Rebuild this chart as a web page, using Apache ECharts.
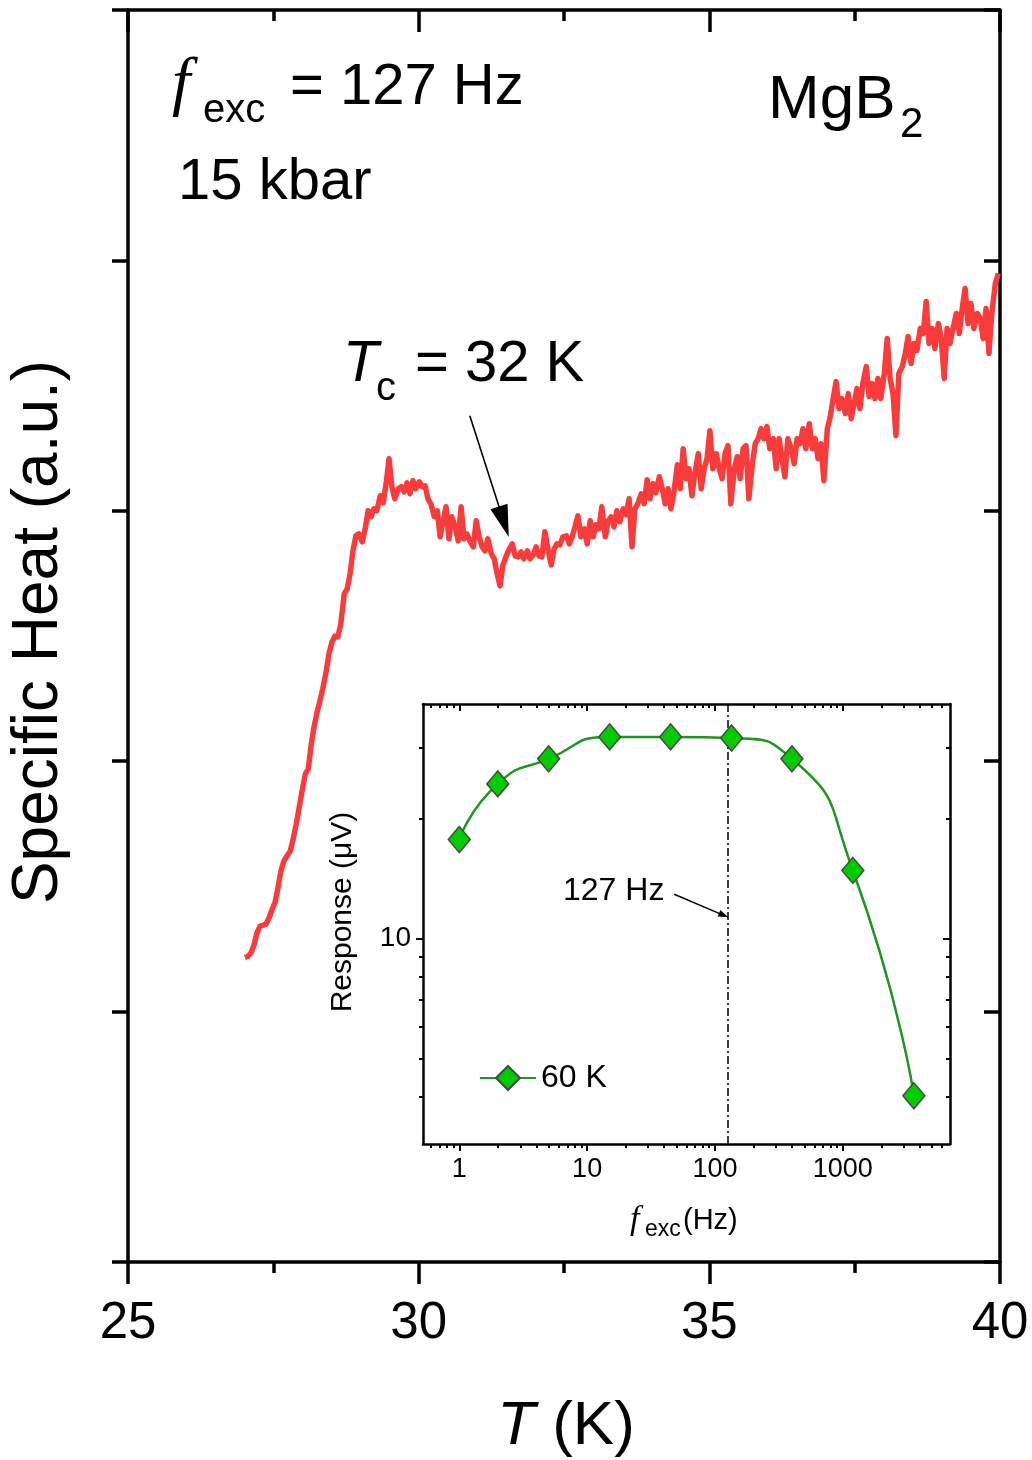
<!DOCTYPE html>
<html><head><meta charset="utf-8">
<script src="https://cdn.jsdelivr.net/npm/echarts@6/dist/echarts.min.js"></script>
<style>html,body{margin:0;padding:0;background:#fff}#c{width:1032px;height:1460px}</style>
</head><body><div id="c"></div>
<script>
// ---- main panel: specific heat vs temperature (arbitrary units) ----
const temperatureK = [
27.01,27.06,27.12,27.17,27.22,27.27,27.32,27.37,27.43,27.48,
27.53,27.58,27.63,27.68,27.74,27.79,27.84,27.89,27.94,27.99,
28.05,28.10,28.15,28.20,28.25,28.30,28.35,28.41,28.46,28.51,
28.56,28.61,28.66,28.72,28.77,28.82,28.87,28.92,28.97,29.03,
29.08,29.13,29.18,29.23,29.28,29.34,29.39,29.44,29.49,29.54,
29.59,29.65,29.70,29.75,29.80,29.85,29.90,29.95,30.01,30.06,
30.11,30.16,30.21,30.27,30.32,30.37,30.42,30.47,30.52,30.57,
30.63,30.68,30.73,30.78,30.83,30.88,30.94,30.99,31.04,31.09,
31.14,31.19,31.25,31.30,31.35,31.40,31.45,31.50,31.56,31.61,
31.66,31.71,31.76,31.81,31.87,31.92,31.97,32.02,32.07,32.12,
32.17,32.23,32.28,32.33,32.38,32.43,32.48,32.54,32.59,32.64,
32.69,32.74,32.79,32.85,32.90,32.95,33.00,33.05,33.10,33.15,
33.21,33.26,33.31,33.36,33.41,33.46,33.52,33.57,33.62,33.67,
33.72,33.77,33.83,33.88,33.93,33.98,34.03,34.08,34.14,34.19,
34.24,34.29,34.34,34.39,34.45,34.50,34.55,34.60,34.65,34.70,
34.75,34.81,34.86,34.91,34.96,35.01,35.06,35.12,35.17,35.22,
35.27,35.32,35.37,35.43,35.48,35.53,35.58,35.63,35.68,35.74,
35.79,35.84,35.89,35.94,35.99,36.04,36.10,36.15,36.20,36.25,
36.30,36.35,36.41,36.46,36.51,36.56,36.61,36.66,36.72,36.77,
36.82,36.87,36.92,36.97,37.03,37.08,37.13,37.18,37.23,37.28,
37.34,37.39,37.44,37.49,37.54,37.59,37.64,37.70,37.75,37.80,
37.85,37.90,37.95,38.01,38.06,38.11,38.16,38.21,38.26,38.32,
38.37,38.42,38.47,38.52,38.57,38.63,38.68,38.73,38.78,38.83,
38.88,38.94,38.99,39.04,39.09,39.14,39.19,39.25,39.30,39.35,
39.40,39.45,39.50,39.55,39.61,39.66,39.71,39.76,39.81,39.86,
39.92,39.97];
const specificHeat = [
12.16,12.20,12.36,12.68,13.16,13.40,13.44,13.48,13.76,14.08,
14.36,14.96,15.60,16.00,16.24,16.40,16.88,17.44,18.08,18.76,
19.48,19.68,20.64,21.36,21.92,22.40,22.88,23.60,24.32,24.76,
25.00,24.96,25.48,26.68,26.88,27.48,28.40,29.00,29.08,28.76,
29.28,30.00,29.76,30.08,30.00,30.60,30.32,31.08,32.08,30.96,
30.48,30.88,30.96,30.76,31.12,30.68,31.20,30.88,31.16,30.96,
31.00,30.48,30.28,29.76,30.00,28.96,29.60,30.16,28.88,29.76,
29.36,28.80,30.16,28.88,29.08,28.80,28.56,29.60,28.96,28.56,
28.40,28.88,28.28,28.08,27.48,27.00,27.84,28.16,28.48,28.68,
28.20,28.16,28.36,28.08,28.40,28.08,28.24,28.56,28.20,28.16,
29.16,28.40,27.84,28.48,28.68,28.64,28.96,29.00,28.68,28.96,
29.36,29.80,28.96,29.28,28.68,29.60,28.96,29.44,29.28,30.16,
28.96,29.60,29.76,29.36,30.00,29.56,30.08,29.84,30.48,28.56,
30.08,30.28,30.68,30.28,31.24,30.48,31.08,30.72,31.36,30.88,
30.28,30.88,30.08,30.72,31.84,30.88,32.48,31.28,31.68,30.60,
31.48,32.28,30.88,31.68,32.08,33.20,31.68,32.28,31.68,31.28,
32.28,32.60,30.28,31.68,32.16,31.28,32.48,32.60,30.48,31.88,
32.68,32.88,33.28,32.88,33.36,32.48,32.88,31.68,32.88,32.08,
31.36,32.88,32.48,31.88,32.88,32.68,33.28,32.48,33.48,32.48,
32.88,32.08,32.68,31.20,33.28,33.76,34.48,35.16,34.08,34.48,
33.88,34.68,33.68,34.28,34.88,34.08,35.08,35.76,34.56,35.08,
34.48,35.28,34.48,35.48,36.88,35.28,34.68,33.00,35.48,35.76,
36.28,36.96,35.88,36.68,36.40,37.28,37.08,38.36,36.68,37.28,
36.48,37.48,36.88,35.28,37.28,36.68,37.28,37.88,37.08,38.08,
38.88,37.48,38.28,37.28,37.88,37.68,36.88,38.08,36.28,37.88,
39.08,39.48];
const mainXRange = [25, 40];
const mainYRange = [0, 50];

// ---- inset: response vs excitation frequency at 60 K ----
const freqHz = [1, 2, 5, 15, 45, 135, 400, 1200, 3600];
const response60K = [17.7, 24.4, 28.2, 32.0, 32.0, 31.8, 28.2, 14.8, 4.03];
const insetXRange = [0.52, 6900];
const insetYRange = [3.05, 38.7];
const insetXMajor = [1, 10, 100, 1000];
const insetXMinor = [0.6,0.7,0.8,0.9,2,3,4,5,6,7,8,9,20,30,40,50,60,70,80,90,200,300,400,500,600,700,800,900,2000,3000,4000,5000,6000];
const insetYMajor = [10];
const insetYMinor = [4,5,6,7,8,9,20,30];
const excitationHz = 127;

// annotation anchors (data coordinates)
const tcArrow = {from: [30.88, 33.8], to: [31.55, 28.95]};
const hzArrow = {from: [48, 12.9], to: [127, 11.3]};

const FONT = "'Liberation Sans', Arial, sans-serif";
const SERIF = "'Liberation Serif', 'Times New Roman', serif";
const BLACK = '#000';
const RED = '#f83c3c';

const chart = echarts.init(document.getElementById('c'), null, {renderer: 'canvas'});

function mainX(pos, labels) {
  return {type: 'value', gridIndex: 0, position: pos, min: mainXRange[0], max: mainXRange[1], interval: 5,
    axisLine: {show: true, onZero: false, lineStyle: {color: BLACK, width: 3.5}},
    axisTick: {show: true, inside: pos === 'top', length: 22, lineStyle: {color: BLACK, width: 3.5}},
    minorTick: {show: true, splitNumber: 2, length: 11, lineStyle: {color: BLACK, width: 3.5}},
    splitLine: {show: false}, minorSplitLine: {show: false},
    axisLabel: {show: labels, margin: 36, fontSize: 51, color: BLACK, fontFamily: FONT}};
}
function mainY(pos) {
  return {type: 'value', gridIndex: 0, position: pos, min: mainYRange[0], max: mainYRange[1], interval: 10,
    axisLine: {show: true, onZero: false, lineStyle: {color: BLACK, width: 3.5}},
    axisTick: {show: true, inside: pos === 'right', length: 16, lineStyle: {color: BLACK, width: 3.5}},
    splitLine: {show: false}, axisLabel: {show: false}};
}
function insetX(pos, ticks, len, labels, line) {
  return {type: 'log', logBase: 10, gridIndex: 1, position: pos, min: insetXRange[0], max: insetXRange[1],
    axisLine: {show: line, onZero: false, lineStyle: {color: BLACK, width: 2.5}},
    axisTick: {show: true, inside: pos === 'top', length: len, customValues: ticks, lineStyle: {color: BLACK, width: 2}},
    minorTick: {show: false}, splitLine: {show: false},
    axisLabel: {show: labels, customValues: insetXMajor, formatter: v => String(Math.round(v)),
      margin: 12, fontSize: 27, color: BLACK, fontFamily: FONT}};
}
function insetY(pos, ticks, len, labels, line) {
  return {type: 'log', logBase: 10, gridIndex: 1, position: pos, min: insetYRange[0], max: insetYRange[1],
    axisLine: {show: line, onZero: false, lineStyle: {color: BLACK, width: 2.5}},
    axisTick: {show: true, inside: pos === 'right', length: len, customValues: ticks, lineStyle: {color: BLACK, width: 2}},
    minorTick: {show: false}, splitLine: {show: false},
    axisLabel: {show: labels, customValues: insetYMajor, formatter: v => String(Math.round(v)),
      margin: 12, fontSize: 28, color: BLACK, fontFamily: FONT}};
}

function txt(id, x, y, text, size, opt) {
  return Object.assign({type: 'text', id: id, x: x, y: y, z: 100,
    style: Object.assign({text: text, fontSize: size, fontFamily: FONT, fill: BLACK, align: 'left', verticalAlign: 'middle'}, opt || {})});
}

const texts = [
  txt('f1', 172, 86, 'f', 66, {fontFamily: SERIF, fontStyle: 'italic'}),
  txt('f1s', 203, 111, 'exc', 40),
  txt('f1r', 290, 88, '= 127 Hz', 58),
  txt('kb', 178, 183, '15 kbar', 58),
  txt('mg', 768, 101, 'MgB', 62),
  txt('mg2', 900, 125, '2', 42),
  txt('tc', 343, 365, 'T', 58, {fontStyle: 'italic'}),
  txt('tcs', 376, 389, 'c', 40),
  txt('tcr', 415, 365, '= 32 K', 58),
  {type: 'text', id: 'xname', x: 566, y: 1427, z: 100,
    style: {text: '{i|T} (K)', fontSize: 62, fontFamily: FONT, fill: BLACK, align: 'center', verticalAlign: 'middle',
      rich: {i: {fontStyle: 'italic', fontSize: 62, fontFamily: FONT}}}},
  {type: 'text', id: 'yname', x: 39, y: 632, rotation: Math.PI / 2, z: 100,
    style: {text: 'Specific Heat (a.u.)', fontSize: 64, fontFamily: FONT, fill: BLACK, align: 'center', verticalAlign: 'middle'}},
  txt('hz', 563, 891, '127 Hz', 32),
  {type: 'text', id: 'iyname', x: 343, y: 912, rotation: Math.PI / 2, z: 100,
    style: {text: 'Response (\u03bcV)', fontSize: 30, fontFamily: FONT, fill: BLACK, align: 'center', verticalAlign: 'middle'}},
  txt('ixf', 630, 1220, 'f', 34, {fontFamily: SERIF, fontStyle: 'italic'}),
  txt('ixs', 645, 1230, 'exc', 23),
  txt('ixr', 683, 1221, '(Hz)', 29)
];

const option = {
  backgroundColor: '#fff',
  animation: false,
  grid: [
    {left: 128, top: 10, width: 872, height: 1252, containLabel: false},
    {left: 423, top: 704, width: 527, height: 440, containLabel: false}
  ],
  xAxis: [
    mainX('bottom', true), mainX('top', false),
    insetX('bottom', insetXMajor, 7, true, true), insetX('top', insetXMajor, 7, false, true),
    insetX('bottom', insetXMinor, 4, false, false), insetX('top', insetXMinor, 4, false, false)
  ],
  yAxis: [
    mainY('left'), mainY('right'),
    insetY('left', insetYMajor, 7, true, true), insetY('right', insetYMajor, 7, false, true),
    insetY('left', insetYMinor, 4, false, false), insetY('right', insetYMinor, 4, false, false)
  ],
  legend: {
    data: ['60 K'], left: 474, top: 1057, itemWidth: 56, itemHeight: 30, itemGap: 0,
    textStyle: {fontSize: 32, fontFamily: FONT, color: BLACK}
  },
  series: [
    {type: 'line', name: 'C', xAxisIndex: 0, yAxisIndex: 0,
      data: temperatureK.map((t, i) => [t, specificHeat[i]]),
      symbol: 'none', showSymbol: false, lineStyle: {color: RED, width: 5.5, join: 'round'}, z: 2},
    {type: 'line', name: '60 K', xAxisIndex: 2, yAxisIndex: 2,
      data: freqHz.map((f, i) => [f, response60K[i]]),
      smooth: 0.6, symbol: 'diamond', symbolSize: [22, 26],
      itemStyle: {color: '#00cc00', borderColor: '#474747', borderWidth: 1.5},
      lineStyle: {color: '#1f961f', width: 2.5}, z: 5,
      markLine: {silent: true, symbol: 'none', label: {show: false},
        lineStyle: {type: [8, 3, 2, 3], color: BLACK, width: 1.5},
        data: [{xAxis: excitationHz}]}}
  ],
  graphic: {elements: texts}
};
chart.setOption(option);

function arrow(id, p0, p1, headLen, headHalf, w) {
  const dx = p1[0] - p0[0], dy = p1[1] - p0[1], L = Math.hypot(dx, dy), ux = dx / L, uy = dy / L;
  const bx = p1[0] - ux * headLen, by = p1[1] - uy * headLen;
  return [
    {type: 'line', id: id + 'l', z: 100, shape: {x1: p0[0], y1: p0[1], x2: bx + ux * 2, y2: by + uy * 2}, style: {stroke: BLACK, lineWidth: w}},
    {type: 'polygon', id: id + 'h', z: 100, shape: {points: [[p1[0], p1[1]], [bx - uy * headHalf, by + ux * headHalf], [bx + uy * headHalf, by - ux * headHalf]]}, style: {fill: BLACK}}
  ];
}
const mainF = {xAxisIndex: 0, yAxisIndex: 0};
const insF = {xAxisIndex: 2, yAxisIndex: 2};
const arrows = []
  .concat(arrow('a1', chart.convertToPixel(mainF, tcArrow.from), chart.convertToPixel(mainF, tcArrow.to), 32, 9, 1.6))
  .concat(arrow('a2', chart.convertToPixel(insF, hzArrow.from), chart.convertToPixel(insF, hzArrow.to), 10, 3.5, 1.4));
chart.setOption({graphic: {elements: texts.concat(arrows)}});
</script>
</body></html>
